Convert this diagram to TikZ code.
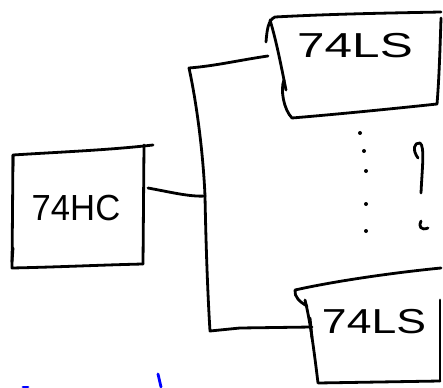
\documentclass[tikz,border=0pt]{standalone}
\usepackage{fontspec}
\setmainfont{Liberation Sans}
\begin{document}
\begin{tikzpicture}[x=1pt,y=-1pt,
  ink/.style={line width=2.8pt,line cap=round,line join=round,black},
  blueink/.style={line width=2.8pt,line cap=round,blue},
  chip/.style={font=\fontsize{33}{33}\selectfont,inner sep=0pt},
  dotmark/.style={circle,fill=black,inner sep=0pt,minimum size=4pt}]
\useasboundingbox (0,0) rectangle (443,387);
% ---- 74HC box ----
\draw[ink] (13,166) -- (13,155) .. controls (60,152) and (110,150) .. (153,145);
\draw[ink] (13,155) -- (12,268) .. controls (60,267) and (100,265) .. (143,264);
\draw[ink] (144,145) -- (143,264);
\draw[ink] (13,248) -- (12,262);
\node[chip] (hc) at (76,208) {\scalebox{1.05}[1.1]{74HC}};
\coordinate (hcout) at (148,188);
% ---- bus ----
\coordinate (bustop) at (189,68);
\coordinate (busmid) at (205,196);
\coordinate (busbot) at (210,331);
\draw[ink] (268,56) .. controls (240,60) and (215,66) .. (bustop)
  .. controls (196,100) and (203,150) .. (busmid);
\draw[ink] (hcout) .. controls (170,192) and (190,197) .. (busmid);
\draw[ink] (busmid) .. controls (206,250) and (208,300) .. (busbot)
  -- (240,328) -- (312,327);
% ---- top 74LS box ----
\draw[ink] (266,42) .. controls (267,30) and (268,20) .. (275,17)
  .. controls (330,14) and (390,13) .. (441,12);
\draw[ink] (270,20) .. controls (276,40) and (280,60) .. (286,90);
\draw[ink] (284,80) .. controls (280,90) and (284,110) .. (292,118)
  .. controls (340,114) and (400,108) .. (437,104);
\draw[ink] (441,18) .. controls (440,50) and (439,80) .. (437,104);
\node[chip] (ls1) at (355,46) {\scalebox{1.5}[1.05]{74LS}};
% ---- dots and mark ----
\node[dotmark] (d1) at (360,133) {};
\node[dotmark] (d2) at (364,151) {};
\node[dotmark] (d3) at (366,171) {};
\node[dotmark] (d4) at (366,204) {};
\node[dotmark] (d5) at (366,231) {};
\draw[ink] (418,158) .. controls (412,150) and (414,142) .. (420,143)
  .. controls (425,146) and (422,170) .. (421,193);
\draw[ink] (421,221) .. controls (418,226) and (421,231) .. (428,228);
% ---- bottom 74LS box ----
\draw[ink] (307,306) .. controls (300,302) and (294,297) .. (295,290)
  .. controls (340,280) and (400,272) .. (441,268);
\draw[ink] (305,300) .. controls (310,320) and (314,350) .. (318,383)
  -- (440,381);
\draw[ink] (440,300) -- (440,381);
\draw[ink] (310,318) -- (312,338);
\node[chip] (ls2) at (374,322) {\scalebox{1.35}[1.05]{74LS}};
% ---- blue marks ----
\draw[blueink] (23,387) -- (28,387);
\draw[blueink] (158,374) -- (161,387);
\end{tikzpicture}
\end{document}
